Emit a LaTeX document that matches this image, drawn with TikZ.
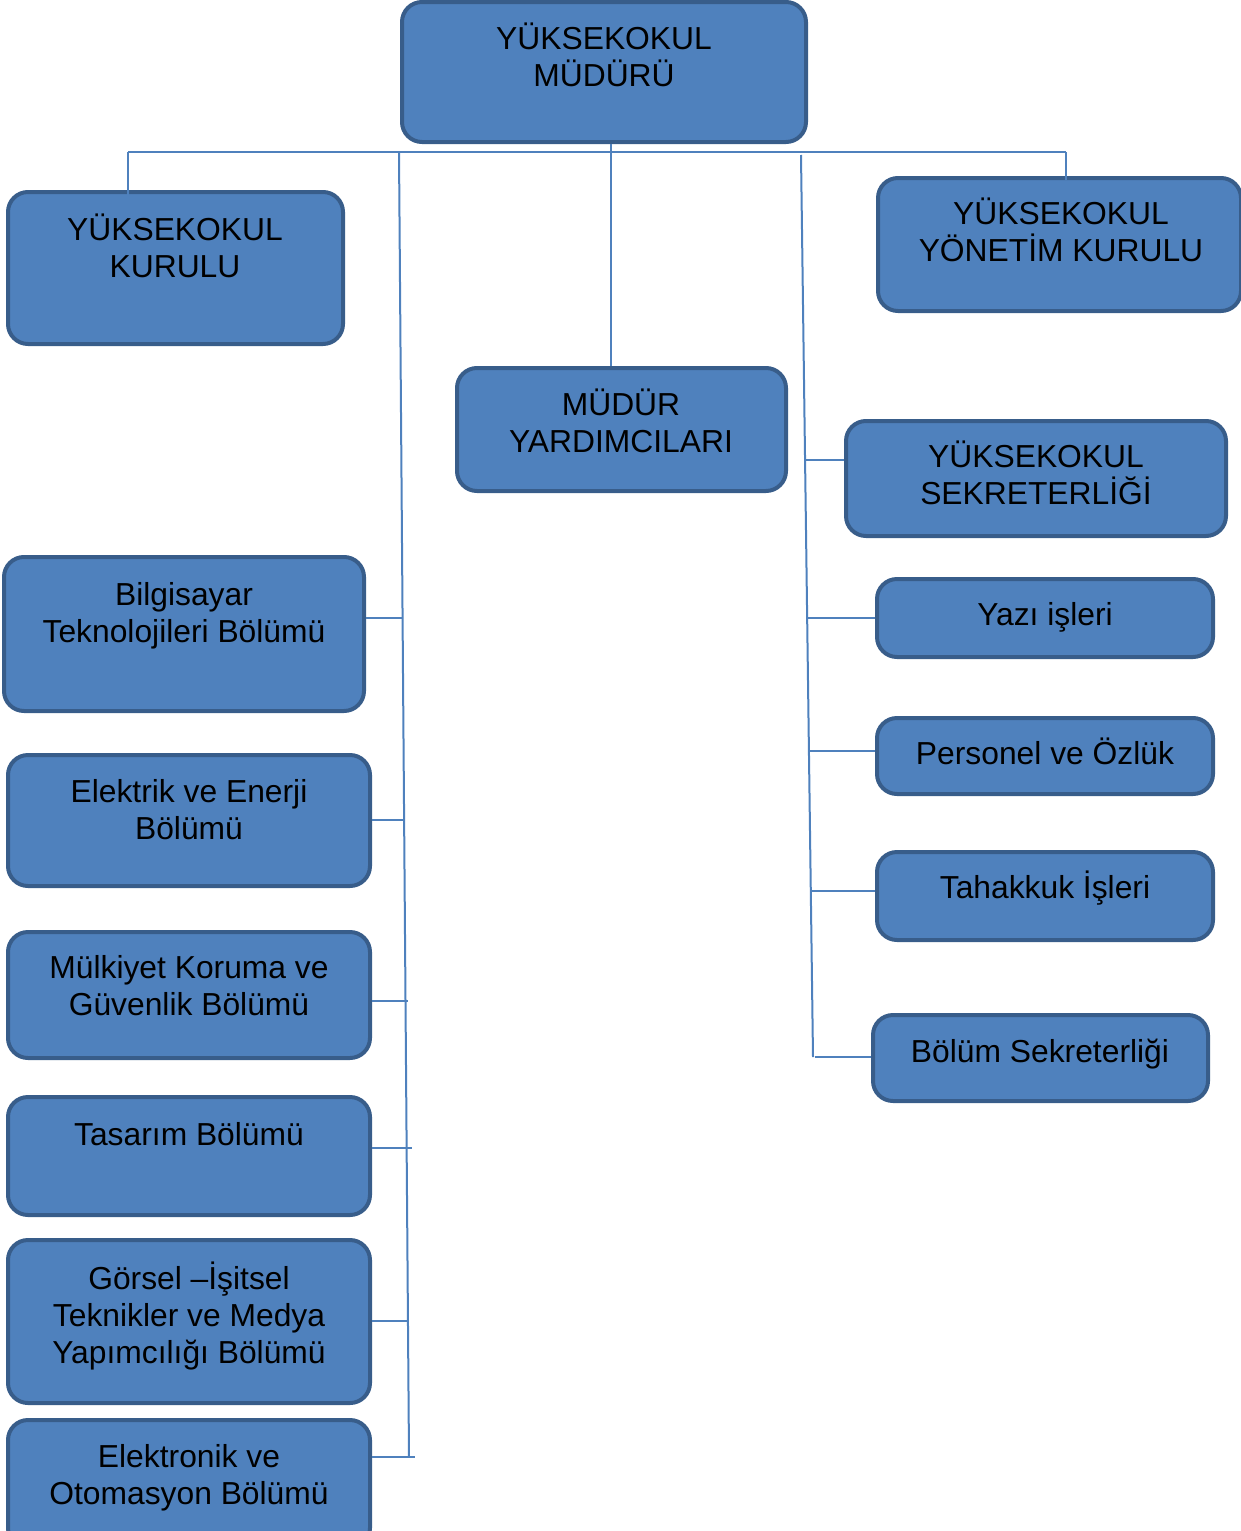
\documentclass[tikz,border=0pt]{standalone}
\usepackage{fontspec}
\setmainfont{Liberation Sans}
\usetikzlibrary{fit}
\definecolor{boxfill}{HTML}{4F81BD}
\definecolor{boxline}{HTML}{385D8A}
\definecolor{linkblue}{HTML}{4F81BD}
\tikzset{
  unit/.style={draw=boxline, fill=boxfill, line width=2pt, rounded corners=10pt, inner sep=0pt},
  caption/.style={anchor=base, align=center, inner sep=0pt, font=\fontsize{15.9}{18.3}\selectfont},
  link/.style={draw=linkblue, line width=1pt}
}
\begin{document}
\begin{tikzpicture}[x=0.5pt, y=-0.5pt]
  \useasboundingbox (0,0) rectangle (1241,1531);
  \clip (0,0) rectangle (1241,1531);
  % boxes
  \node[unit, fit={(402,2) (806,142)}] (mudur) {};
  \node[unit, fit={(8,192) (343,344)}] (kurulu) {};
  \node[unit, fit={(878,178) (1241,311)}] (yonetim) {};
  \node[unit, fit={(457,368) (786,491)}] (yardimci) {};
  \node[unit, fit={(846,421) (1226,536)}] (sekreter) {};
  \node[unit, fit={(877,579) (1213,657)}] (yazi) {};
  \node[unit, fit={(877,718) (1213,794)}] (personel) {};
  \node[unit, fit={(877,852) (1213,940)}] (tahakkuk) {};
  \node[unit, fit={(873,1015) (1208,1101)}] (bolumsek) {};
  \node[unit, fit={(4,557) (364,711)}] (bilgisayar) {};
  \node[unit, fit={(8,755) (370,886)}] (elektrik) {};
  \node[unit, fit={(8,932) (370,1058)}] (mulkiyet) {};
  \node[unit, fit={(8,1097) (370,1215)}] (tasarim) {};
  \node[unit, fit={(8,1240) (370,1403)}] (gorsel) {};
  \node[unit, fit={(8,1420) (370,1548)}] (elektronik) {};
  % top bus
  \coordinate (bus west) at (128,152);
  \coordinate (bus east) at (1066,152);
  \coordinate (stem) at (611,152);
  \draw[link] (bus west) -- (bus east);
  \draw[link] (mudur.south -| stem) -- (yardimci.north -| stem);
  \draw[link] (bus west) -- ([yshift=-4pt]kurulu.north -| bus west);
  \draw[link] (bus east) -- ([yshift=-2pt]yonetim.north -| bus east);
  % left trunk
  \coordinate (left top) at (399,152);
  \coordinate (left end) at (409,1457);
  \draw[link] (left top) -- (left end);
  \foreach \b/\y/\x in {bilgisayar/618/402, elektrik/820/403, mulkiyet/1001/408,
                        tasarim/1148/412, gorsel/1321/407, elektronik/1457/415}
    \draw[link] (\b.east |- 0,\y) -- (\x,\y);
  % right trunk
  \coordinate (right top) at (801,155);
  \coordinate (right end) at (813,1057);
  \draw[link] (right top) -- (right end);
  \foreach \b/\y/\x in {sekreter/460/805, yazi/618/807, personel/751/808,
                        tahakkuk/891/810, bolumsek/1057/815}
    \draw[link] (\x,\y) -- (\b.west |- 0,\y);
  % texts (base = last line)
  \node[caption] (mudur text) at (604,86) {YÜKSEKOKUL\\MÜDÜRÜ};
  \node[caption] (kurulu text) at (175,277) {YÜKSEKOKUL\\KURULU};
  \node[caption] (yonetim text) at (1061,261) {YÜKSEKOKUL\\YÖNETİM KURULU};
  \node[caption] (yardimci text) at (621,452) {MÜDÜR\\YARDIMCILARI};
  \node[caption] (sekreter text) at (1036,504) {YÜKSEKOKUL\\SEKRETERLİĞİ};
  \node[caption] (yazi text) at (1045,625) {Yazı işleri};
  \node[caption] (personel text) at (1045,764) {Personel ve Özlük};
  \node[caption] (tahakkuk text) at (1045,898) {Tahakkuk İşleri};
  \node[caption] (bolumsek text) at (1040,1062) {Bölüm Sekreterliği};
  \node[caption] (bilgisayar text) at (184,642) {Bilgisayar\\Teknolojileri Bölümü};
  \node[caption] (elektrik text) at (189,839) {Elektrik ve Enerji\\Bölümü};
  \node[caption] (mulkiyet text) at (189,1015) {Mülkiyet Koruma ve\\Güvenlik Bölümü};
  \node[caption] (tasarim text) at (189,1145) {Tasarım Bölümü};
  \node[caption] (gorsel text) at (189,1363) {Görsel –İşitsel\\Teknikler ve Medya\\Yapımcılığı Bölümü};
  \node[caption] (elektronik text) at (189,1504) {Elektronik ve\\Otomasyon Bölümü};
\end{tikzpicture}
\end{document}
